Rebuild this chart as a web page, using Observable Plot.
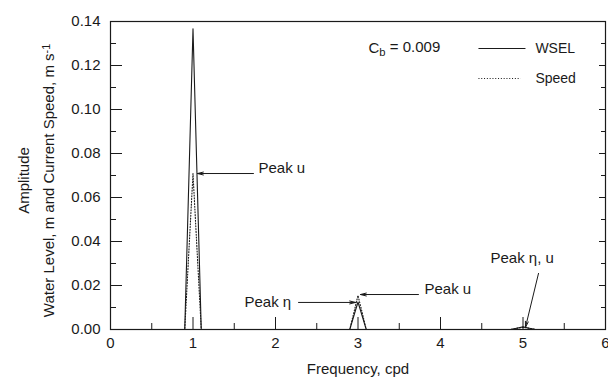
<!DOCTYPE html>
<html><head><meta charset="utf-8">
<script src="https://cdn.jsdelivr.net/npm/d3@7"></script>
<script src="https://cdn.jsdelivr.net/npm/@observablehq/plot@0.6"></script>
<style>body{margin:0;background:#fff} svg{display:block}</style>
</head><body><div id="chart"></div>
<script>
// ---- data ----
const frequency = [0, 0.9, 1.0, 1.1, 2.9, 3.0, 3.1, 4.85, 4.95, 5.0, 5.05, 5.15, 6];
const wsel      = [0, 0, 0.1367, 0, 0, 0.0125, 0, 0, 0.0008, 0.0012, 0.0008, 0, 0];
const speed     = [0, 0, 0.0709, 0, 0, 0.0155, 0, 0, 0.0007, 0.0010, 0.0007, 0, 0];

const xTicksMajor = [0, 1, 2, 3, 4, 5, 6];
const xTicksMinor = [0.5, 1.5, 2.5, 3.5, 4.5, 5.5];
const yTicksMajor = [0, 0.02, 0.04, 0.06, 0.08, 0.10, 0.12, 0.14];
const yTicksMinor = [0.01, 0.03, 0.05, 0.07, 0.09, 0.11, 0.13];

const seriesNames = ["WSEL", "Speed"];
const xLabel = "Frequency, cpd";
const yLabel = "Amplitude\nWater Level, m and Current Speed, m s-1";
const cbLabel = "Cb = 0.009";

// annotation texts and anchor points (data units)
const peakLabels = ["Peak u", "Peak \u03b7", "Peak u", "Peak \u03b7, u"];
const peakLabelX = [1.794, 1.624, 3.806, 4.606];
const peakLabelY = [0.0732, 0.0123, 0.0182, 0.0323];
const arrowX1 = [1.733, 2.279, 3.733, 5.188];
const arrowY1 = [0.0709, 0.0123, 0.0159, 0.0255];
const arrowX2 = [1.055, 2.970, 3.030, 5.030];
const arrowY2 = [0.0709, 0.0123, 0.0159, 0.0010];

// ---- build tables ----
const wselRows = frequency.map((f, i) => ({freq: f, value: wsel[i]}));
const speedRows = frequency.map((f, i) => ({freq: f, value: speed[i]}));
const peaks = peakLabels.map((t, i) => ({text: t, x: peakLabelX[i], y: peakLabelY[i]}));
const arrows = arrowX1.map((x, i) => ({x1: x, y1: arrowY1[i], x2: arrowX2[i], y2: arrowY2[i]}));
const legend = [
  {name: seriesNames[0], x1: 4.46, x2: 5.03, y: 0.1277, dash: null},
  {name: seriesNames[1], x1: 4.46, x2: 4.97, y: 0.1141, dash: "1,1.8"}
];

const W = 608, H = 383, mL = 110, mR = 3, mT = 21, mB = 54;
const fw = W - mL - mR, fh = H - mT - mB;
const ink = "#1a1a1a";

const plot = Plot.plot({
  width: W, height: H,
  marginLeft: mL, marginRight: mR, marginTop: mT, marginBottom: mB,
  style: {fontFamily: "'Liberation Sans', Arial, sans-serif", fontSize: "15px", color: ink, background: "#fff"},
  x: {domain: [0, 6]},
  y: {domain: [0, 0.14]},
  marks: [
    Plot.axisX({ticks: xTicksMajor, tickSize: 0, tickPadding: 8, tickFormat: d => String(d), label: null, fontSize: 15}),
    Plot.axisY({ticks: yTicksMajor, tickSize: 0, tickPadding: 10, tickFormat: d3.format(".2f"), label: null, fontSize: 15}),
    // inward ticks
    Plot.tickX(xTicksMajor, {x: d => d, insetTop: fh - 12, stroke: ink}),
    Plot.tickX(xTicksMinor, {x: d => d, insetTop: fh - 6, stroke: ink}),
    Plot.tickY(yTicksMajor, {y: d => d, insetRight: fw - 12, stroke: ink}),
    Plot.tickY(yTicksMinor, {y: d => d, insetRight: fw - 6, stroke: ink}),
    Plot.tickY(yTicksMajor, {y: d => d, insetLeft: fw - 6, stroke: ink}),
    Plot.tickY(yTicksMinor, {y: d => d, insetLeft: fw - 4, stroke: ink}),
    // data
    Plot.line(wselRows, {x: "freq", y: "value", stroke: ink, strokeWidth: 1.1}),
    Plot.line(speedRows, {x: "freq", y: "value", stroke: ink, strokeWidth: 1.1, strokeDasharray: "1,1.8"}),
    Plot.frame({stroke: ink, strokeWidth: 1.2}),
    // legend
    Plot.link(legend.filter(d => !d.dash), {x1: "x1", x2: "x2", y1: "y", y2: "y", stroke: ink, strokeWidth: 1.1}),
    Plot.link(legend.filter(d => d.dash), {x1: "x1", x2: "x2", y1: "y", y2: "y", stroke: ink, strokeWidth: 1.1, strokeDasharray: "1,1.8"}),
    Plot.text(legend, {x: 5.15, y: "y", text: "name", textAnchor: "start", fontSize: 14}),
    Plot.text([cbLabel], {x: 3.127, y: 0.128, text: d => d, textAnchor: "start", fontSize: 15}),
    // annotations
    Plot.arrow(arrows, {x1: "x1", y1: "y1", x2: "x2", y2: "y2", stroke: ink, strokeWidth: 1, headLength: 9, headAngle: 28}),
    Plot.text(peaks, {x: "x", y: "y", text: "text", textAnchor: "start", fontSize: 15}),
    // axis titles
    Plot.text([xLabel], {frameAnchor: "bottom", dy: 44, text: d => d, fontSize: 15}),
    Plot.text([yLabel], {frameAnchor: "left", textAnchor: "middle", dx: -77, dy: 5, rotate: -90, text: d => d, lineHeight: 1.7, fontSize: 15})
  ]
});

// superscript / subscript post-processing
d3.select(plot).selectAll("text, tspan").each(function() {
  const el = d3.select(this);
  if (this.childElementCount === 0 && this.textContent === "Water Level, m and Current Speed, m s-1") {
    el.text("Water Level, m and Current Speed, m s");
    el.append("tspan").attr("dy", "-0.45em").attr("font-size", "0.72em").text("-1");
  }
  if (this.childElementCount === 0 && this.textContent === cbLabel) {
    el.text("C");
    el.append("tspan").attr("dy", "0.3em").attr("font-size", "0.75em").text("b");
    el.append("tspan").attr("dy", "-0.3em").text(" = 0.009");
  }
});

document.getElementById("chart").appendChild(plot);
</script>
</body></html>
